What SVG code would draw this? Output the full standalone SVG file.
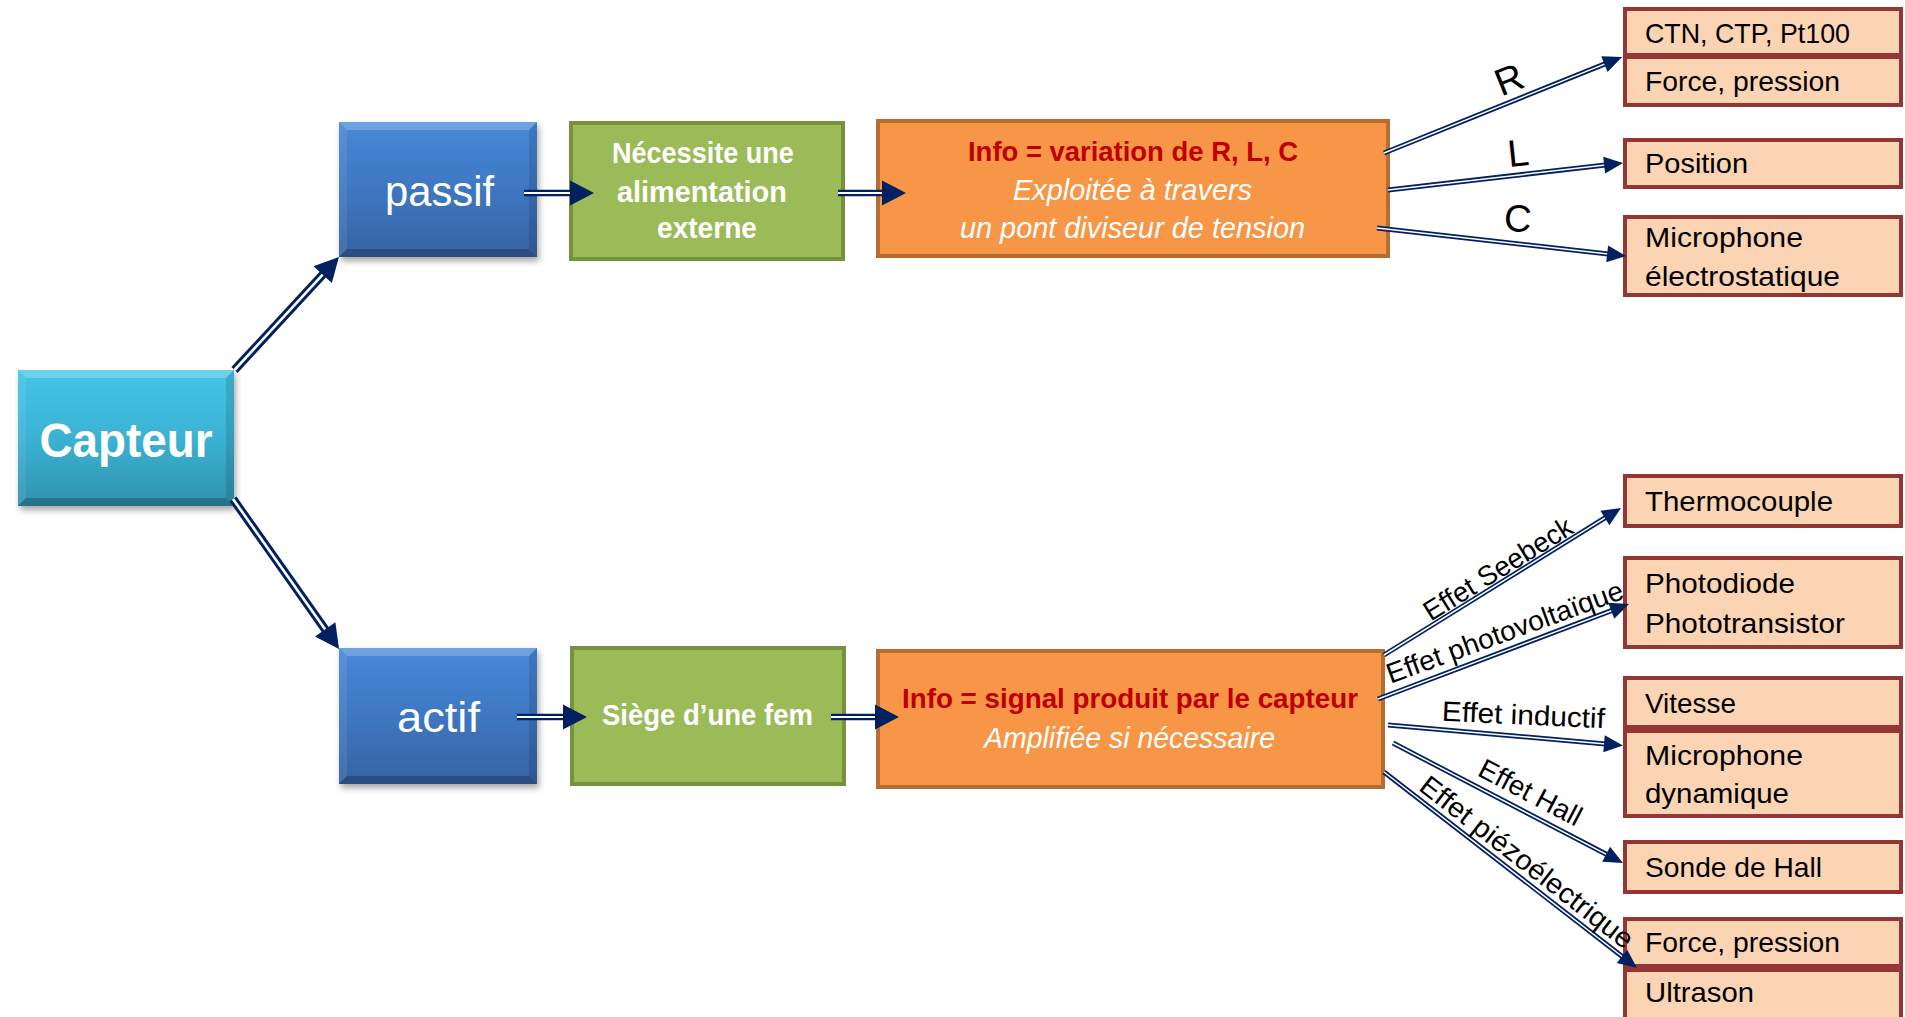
<svg xmlns="http://www.w3.org/2000/svg" width="1905" height="1017" viewBox="0 0 1905 1017">
<defs>
<style>
text{font-family:"Liberation Sans",Arial,sans-serif}
.w{fill:#fff}
.b{font-weight:bold}
.it{font-style:italic}
.red{fill:#C00000;font-weight:bold}
.itm{fill:#000;font-size:28px}
.lbl{fill:#000;font-size:28px}
.rlc{fill:#000;font-size:38px}
.grn{fill:#9BBB59;stroke:#76923C;stroke-width:4}
.org{fill:#F79646;stroke:#B66D31;stroke-width:4}
.pch{fill:#FBD4B4;stroke:#943634;stroke-width:4}
.hl{fill:#fff;opacity:.22}
.hl2{fill:#fff;opacity:.08}
.dk{fill:#000;opacity:.12}
.dk2{fill:#000;opacity:.22}
.ob{stroke:#002060;stroke-width:8.5;fill:none}
.ib{stroke:#fff;stroke-width:2.6;fill:none;marker-end:url(#hb)}
.oh{stroke:#002060;stroke-width:6.5;fill:none}
.ih{stroke:#fff;stroke-width:2;fill:none;marker-end:url(#hb)}
.os{stroke:#002060;stroke-width:5;fill:none}
.is{stroke:#fff;stroke-width:1.5;fill:none;marker-end:url(#hs)}
</style>
<linearGradient id="gc" x1="0" y1="0" x2="0" y2="1">
<stop offset="0" stop-color="#45C5E6"/><stop offset="0.5" stop-color="#3BB2D3"/><stop offset="1" stop-color="#2F92AD"/>
</linearGradient>
<linearGradient id="gb" x1="0" y1="0" x2="0" y2="1">
<stop offset="0" stop-color="#4789D9"/><stop offset="0.5" stop-color="#3E77C1"/><stop offset="1" stop-color="#3663A2"/>
</linearGradient>
<filter id="sh" x="-10%" y="-10%" width="130%" height="130%">
<feDropShadow dx="2" dy="4" stdDeviation="3" flood-color="#000" flood-opacity="0.35"/>
</filter>
<marker id="hb" markerUnits="userSpaceOnUse" orient="auto" refX="12" refY="0" markerWidth="30" markerHeight="30" overflow="visible">
<path d="M0,-12.5 L24,0 L0,12.5 Z" fill="#002060"/>
</marker>
<marker id="hs" markerUnits="userSpaceOnUse" orient="auto" refX="10" refY="0" markerWidth="24" markerHeight="24" overflow="visible">
<path d="M0,-8.5 L19,0 L0,8.5 Z" fill="#002060"/>
</marker>
</defs>
<rect width="1905" height="1017" fill="#fff"/>

<g id="capteur">
<rect x="18" y="370" width="216" height="136" fill="url(#gc)" filter="url(#sh)"/>
<polygon class="hl" points="18,370 234,370 226,378 26,378"/>
<polygon class="hl2" points="18,370 26,378 26,498 18,506"/>
<polygon class="dk" points="234,370 234,506 226,498 226,378"/>
<polygon class="dk2" points="18,506 234,506 226,498 26,498"/>
<text x="126" y="457" class="w b" font-size="48" text-anchor="middle" textLength="173" lengthAdjust="spacingAndGlyphs">Capteur</text>
</g>

<g id="passif">
<rect x="339" y="122" width="198" height="135" fill="url(#gb)" filter="url(#sh)"/>
<polygon class="hl" points="339,122 537,122 529,130 347,130"/>
<polygon class="hl2" points="339,122 347,130 347,249 339,257"/>
<polygon class="dk" points="537,122 537,257 529,249 529,130"/>
<polygon class="dk2" points="339,257 537,257 529,249 347,249"/>
<text x="439.5" y="206" class="w" font-size="43" text-anchor="middle" textLength="109" lengthAdjust="spacingAndGlyphs">passif</text>
</g>

<g id="actif">
<rect x="339" y="648" width="198" height="136" fill="url(#gb)" filter="url(#sh)"/>
<polygon class="hl" points="339,648 537,648 529,656 347,656"/>
<polygon class="hl2" points="339,648 347,656 347,776 339,784"/>
<polygon class="dk" points="537,648 537,784 529,776 529,656"/>
<polygon class="dk2" points="339,784 537,784 529,776 347,776"/>
<text x="438.5" y="732" class="w" font-size="43" text-anchor="middle" textLength="83" lengthAdjust="spacingAndGlyphs">actif</text>
</g>

<g id="alim">
<rect x="571" y="123" width="272" height="136" class="grn"/>
<text class="w b" font-size="29.5" text-anchor="middle">
<tspan x="707" y="163" textLength="182" lengthAdjust="spacingAndGlyphs">Nécessite une</tspan>
<tspan x="706" y="202" textLength="170" lengthAdjust="spacingAndGlyphs">alimentation</tspan>
<tspan x="707" y="238" textLength="100" lengthAdjust="spacingAndGlyphs">externe</tspan>
</text>
</g>

<g id="fem">
<rect x="572" y="648" width="272" height="136" class="grn"/>
<text x="707.5" y="725" class="w b" font-size="29.5" text-anchor="middle" textLength="211" lengthAdjust="spacingAndGlyphs">Siège d’une fem</text>
</g>

<g id="info-passif">
<rect x="878" y="121" width="510" height="135" class="org"/>
<text x="1133" y="161" class="red" font-size="28.5" text-anchor="middle" textLength="330" lengthAdjust="spacingAndGlyphs">Info = variation de R, L, C</text>
<text x="1132.5" y="200" class="w it" font-size="29" text-anchor="middle" textLength="239" lengthAdjust="spacingAndGlyphs">Exploitée à travers</text>
<text x="1132.5" y="238" class="w it" font-size="29" text-anchor="middle" textLength="345" lengthAdjust="spacingAndGlyphs">un pont diviseur de tension</text>
</g>

<g id="info-actif">
<rect x="878" y="651" width="505" height="136" class="org"/>
<text x="1130" y="708" class="red" font-size="28.5" text-anchor="middle" textLength="456" lengthAdjust="spacingAndGlyphs">Info = signal produit par le capteur</text>
<text x="1129.5" y="748" class="w it" font-size="29" text-anchor="middle" textLength="291" lengthAdjust="spacingAndGlyphs">Amplifiée si nécessaire</text>
</g>

<g id="ctn"><rect x="1625" y="9" width="276" height="46" class="pch"/><text x="1645" y="43" class="itm" textLength="205" lengthAdjust="spacingAndGlyphs">CTN, CTP, Pt100</text></g>
<g id="force1"><rect x="1625" y="57" width="276" height="48" class="pch"/><text x="1645" y="91" class="itm" textLength="195" lengthAdjust="spacingAndGlyphs">Force, pression</text></g>
<g id="position"><rect x="1625" y="140" width="276" height="47" class="pch"/><text x="1645" y="173" class="itm" textLength="103" lengthAdjust="spacingAndGlyphs">Position</text></g>
<g id="micro-elec"><rect x="1625" y="217" width="276" height="78" class="pch"/><text x="1645" y="247" class="itm" textLength="158" lengthAdjust="spacingAndGlyphs">Microphone</text><text x="1645" y="286" class="itm" textLength="195" lengthAdjust="spacingAndGlyphs">électrostatique</text></g>
<g id="thermo"><rect x="1625" y="476" width="276" height="50" class="pch"/><text x="1645" y="511" class="itm" textLength="188" lengthAdjust="spacingAndGlyphs">Thermocouple</text></g>
<g id="photo"><rect x="1625" y="558" width="276" height="89" class="pch"/><text x="1645" y="593" class="itm" textLength="150" lengthAdjust="spacingAndGlyphs">Photodiode</text><text x="1645" y="633" class="itm" textLength="200" lengthAdjust="spacingAndGlyphs">Phototransistor</text></g>
<g id="vitesse"><rect x="1625" y="678" width="276" height="49" class="pch"/><text x="1645" y="713" class="itm" textLength="91" lengthAdjust="spacingAndGlyphs">Vitesse</text></g>
<g id="micro-dyn"><rect x="1625" y="731" width="276" height="85" class="pch"/><text x="1645" y="765" class="itm" textLength="158" lengthAdjust="spacingAndGlyphs">Microphone</text><text x="1645" y="803" class="itm" textLength="144" lengthAdjust="spacingAndGlyphs">dynamique</text></g>
<g id="hall"><rect x="1625" y="842" width="276" height="50" class="pch"/><text x="1645" y="877" class="itm" textLength="177" lengthAdjust="spacingAndGlyphs">Sonde de Hall</text></g>
<g id="force2"><rect x="1625" y="919" width="276" height="47" class="pch"/><text x="1645" y="952" class="itm" textLength="195" lengthAdjust="spacingAndGlyphs">Force, pression</text></g>
<g id="ultrason"><rect x="1625" y="970" width="276" height="60" class="pch"/><text x="1645" y="1002" class="itm" textLength="109" lengthAdjust="spacingAndGlyphs">Ultrason</text></g>

<g id="connectors">
<line class="ob" x1="234.5" y1="370" x2="330.8" y2="265.8"/><line class="ib" x1="234.5" y1="370" x2="330.8" y2="265.8"/>
<line class="ob" x1="233" y1="499" x2="332.1" y2="639.2"/><line class="ib" x1="233" y1="499" x2="332.1" y2="639.2"/>
<line class="oh" x1="524" y1="193" x2="582" y2="193"/><line class="ih" x1="524" y1="193" x2="582" y2="193"/>
<line class="oh" x1="838" y1="193" x2="894" y2="193"/><line class="ih" x1="838" y1="193" x2="894" y2="193"/>
<line class="oh" x1="517" y1="717" x2="575" y2="717"/><line class="ih" x1="517" y1="717" x2="575" y2="717"/>
<line class="oh" x1="831" y1="717" x2="887" y2="717"/><line class="ih" x1="831" y1="717" x2="887" y2="717"/>

<line class="os" x1="1384" y1="153" x2="1613.7" y2="60.4"/><line class="is" x1="1384" y1="153" x2="1613.7" y2="60.4"/>
<line class="os" x1="1388" y1="190" x2="1614.1" y2="164"/><line class="is" x1="1388" y1="190" x2="1614.1" y2="164"/>
<line class="os" x1="1377" y1="228" x2="1617.1" y2="255"/><line class="is" x1="1377" y1="228" x2="1617.1" y2="255"/>
<line class="os" x1="1384" y1="655" x2="1613.4" y2="512.7"/><line class="is" x1="1384" y1="655" x2="1613.4" y2="512.7"/>
<line class="os" x1="1378" y1="699" x2="1620.6" y2="607.2"/><line class="is" x1="1378" y1="699" x2="1620.6" y2="607.2"/>
<line class="os" x1="1388" y1="725" x2="1614" y2="744.7"/><line class="is" x1="1388" y1="725" x2="1614" y2="744.7"/>
<line class="os" x1="1393" y1="743" x2="1615" y2="858.8"/><line class="is" x1="1393" y1="743" x2="1615" y2="858.8"/>
<line class="os" x1="1384" y1="772" x2="1629.9" y2="962.5"/><line class="is" x1="1384" y1="772" x2="1629.9" y2="962.5"/>

<text class="rlc" text-anchor="middle" transform="translate(1509,79) rotate(-22)" y="13.5">R</text>
<text class="rlc" text-anchor="middle" transform="translate(1518,152.5) rotate(-6)" y="13.5">L</text>
<text class="rlc" text-anchor="middle" transform="translate(1518,218) rotate(4)" y="13.5">C</text>
<text class="lbl" text-anchor="middle" transform="translate(1503,577) rotate(-31.8)" textLength="170" lengthAdjust="spacingAndGlyphs">Effet Seebeck</text>
<text class="lbl" text-anchor="middle" transform="translate(1508,641) rotate(-20)" textLength="250" lengthAdjust="spacingAndGlyphs">Effet photovoltaïque</text>
<text class="lbl" text-anchor="middle" transform="translate(1523,724.5) rotate(2.6)" textLength="163" lengthAdjust="spacingAndGlyphs">Effet inductif</text>
<text class="lbl" text-anchor="middle" transform="translate(1526,801) rotate(27.6)" textLength="112" lengthAdjust="spacingAndGlyphs">Effet Hall</text>
<text class="lbl" text-anchor="middle" transform="translate(1521,869.5) rotate(37.8)" textLength="262" lengthAdjust="spacingAndGlyphs">Effet piézoélectrique</text>
</g>
</svg>
